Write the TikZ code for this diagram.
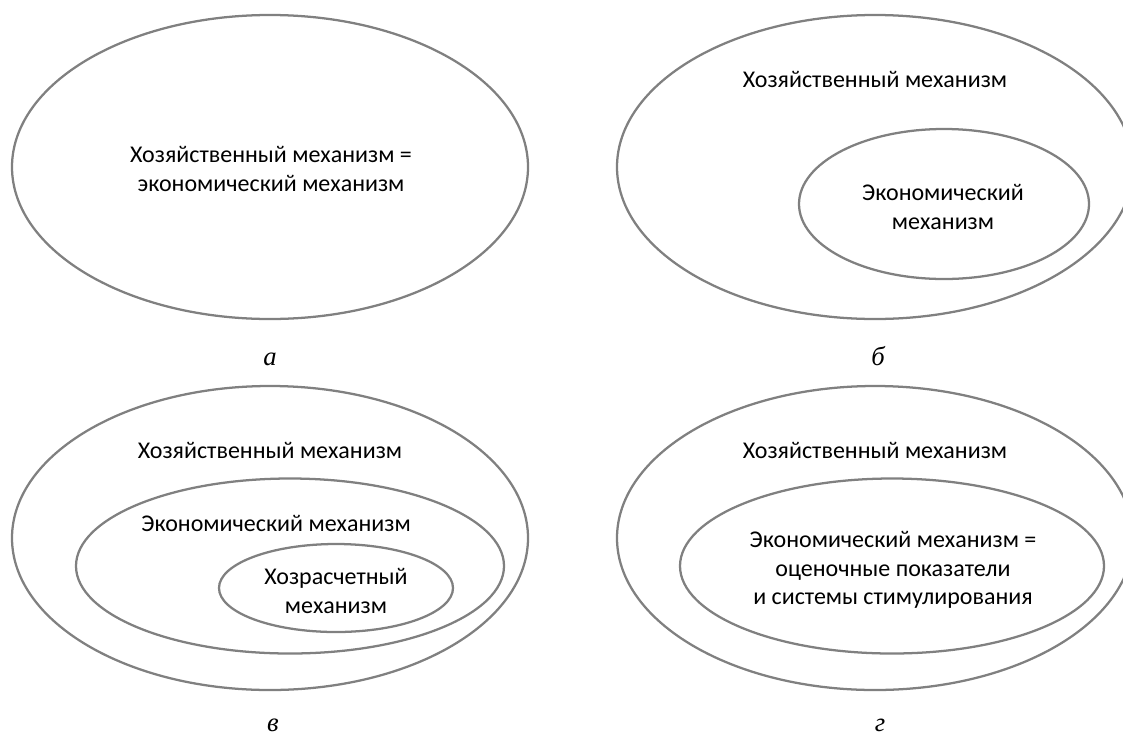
\documentclass[tikz,border=0pt]{standalone}
\usepackage{fontspec}
\setmainfont{Carlito}
\newfontfamily\capfont{Liberation Serif}
\usetikzlibrary{shapes.geometric,positioning}

\begin{document}
\begin{tikzpicture}[x=0.75pt, y=-0.75pt,
  mech/.style={ellipse, draw=black!50, line width=1.7pt, inner sep=0pt},
  big/.style={mech, minimum width=387pt, minimum height=228pt},
  lbl/.style={font=\fontsize{18}{21.5}\selectfont, align=center, inner sep=0pt},
  sublbl/.style={font=\capfont\itshape\fontsize{20}{24}\selectfont, inner sep=0pt, anchor=base}]
\useasboundingbox (0,0) rectangle (1123,736);

\node[big] (hoza) at (270,167) {};
\node[lbl] (txta) at (271,169) {Хозяйственный механизм =\\экономический механизм};
\node[sublbl] (capa) at (270,365) {а};

\node[big] (hozb) at (875,167) {};
\node[mech, minimum width=217.5pt, minimum height=112.5pt] (ekob) at (944,204) {};
\node[lbl] (txthb) at (875,79) {Хозяйственный механизм};
\node[lbl] (txteb) at (943,207) {Экономический\\механизм};
\node[sublbl] (capb) at (878,365) {б};

\node[big] (hozc) at (270,538) {};
\node[mech, minimum width=321pt, minimum height=131.25pt] (ekoc) at (290,566) {};
\node[mech, minimum width=175.5pt, minimum height=66pt] (hrc) at (336,588) {};
\node[lbl] (txthc) at (270,450) {Хозяйственный механизм};
\node[lbl] (txtec) at (276,523) {Экономический механизм};
\node[lbl] (txtrc) at (336,591) {Хозрасчетный\\механизм};
\node[sublbl] (capc) at (273,731) {в};

\node[big] (hozd) at (875,538) {};
\node[mech, minimum width=318pt, minimum height=131.25pt] (ekod) at (892,566) {};
\node[lbl] (txthd) at (875,450) {Хозяйственный механизм};
\node[lbl] (txted) at (893,570) {Экономический механизм =\\оценочные показатели\\и системы стимулирования};
\node[sublbl] (capd) at (880,731) {г};
\end{tikzpicture}
\end{document}
